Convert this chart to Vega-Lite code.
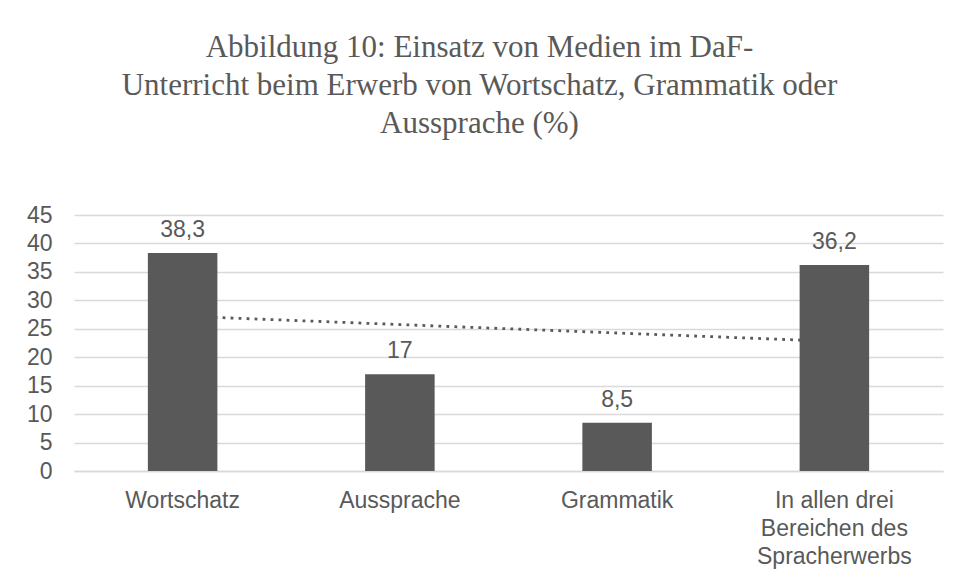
{
  "$schema": "https://vega.github.io/schema/vega-lite/v6.json",
  "autosize": "none",
  "width": 869,
  "height": 256,
  "padding": {"left": 74, "top": 215, "right": 14, "bottom": 108},
  "background": "white",
  "config": {
    "locale": {"number": {"decimal": ",", "thousands": ".", "grouping": [3], "currency": ["", " €"]}},
    "view": {"stroke": null},
    "font": "Liberation Sans"
  },
  "title": {
    "text": ["Abbildung 10: Einsatz von Medien im DaF-", "Unterricht beim Erwerb von Wortschatz, Grammatik oder", "Aussprache (%)"],
    "font": "Liberation Serif",
    "fontSize": 31,
    "fontWeight": "normal",
    "color": "#595959",
    "lineHeight": 38,
    "anchor": "middle",
    "frame": "group",
    "dx": -29,
    "offset": 64
  },
  "data": {
    "values": [
      {"kategorie": "Wortschatz", "wert": 38.3, "trend": 27.22},
      {"kategorie": "Aussprache", "wert": 17, "trend": 25.74},
      {"kategorie": "Grammatik", "wert": 8.5, "trend": 24.26},
      {"kategorie": "In allen drei Bereichen des Spracherwerbs", "wert": 36.2, "trend": 22.78}
    ]
  },
  "transform": [{"fold": ["wert", "trend"], "as": ["reihe", "y"]}],
  "encoding": {
    "x": {
      "field": "kategorie",
      "type": "nominal",
      "sort": null,
      "scale": {"paddingInner": 0.68, "paddingOuter": 0.34},
      "axis": {
        "title": null,
        "labelAngle": 0,
        "ticks": false,
        "domainColor": "#d9d9d9",
        "domainWidth": 1.3,
        "labelFont": "Liberation Sans",
        "labelFontSize": 23,
        "labelColor": "#595959",
        "labelPadding": 18,
        "labelBaseline": "top",
        "labelLineHeight": 28,
        "labelExpr": "datum.label == 'In allen drei Bereichen des Spracherwerbs' ? ['In allen drei', 'Bereichen des', 'Spracherwerbs'] : datum.label"
      }
    },
    "y": {
      "field": "y",
      "type": "quantitative",
      "scale": {"domain": [0, 45], "nice": false},
      "axis": {
        "title": null,
        "values": [0, 5, 10, 15, 20, 25, 30, 35, 40, 45],
        "labelOverlap": false,
        "labelBound": false,
        "labelFlush": false,
        "domain": false,
        "ticks": false,
        "gridColor": "#d9d9d9",
        "gridWidth": 1.3,
        "labelFont": "Liberation Sans",
        "labelFontSize": 23,
        "labelColor": "#595959",
        "labelPadding": 22
      }
    }
  },
  "layer": [
    {
      "transform": [{"filter": "datum.reihe == 'trend'"}],
      "mark": {"type": "line", "color": "#595959", "strokeWidth": 2.8, "strokeDash": [2.8, 5.2]}
    },
    {
      "transform": [{"filter": "datum.reihe == 'wert'"}],
      "mark": {"type": "bar", "color": "#595959"}
    },
    {
      "transform": [{"filter": "datum.reihe == 'wert'"}],
      "mark": {"type": "text", "color": "#595959", "font": "Liberation Sans", "fontSize": 23, "baseline": "alphabetic", "dy": -16},
      "encoding": {
        "text": {"field": "y", "type": "quantitative", "format": ".3~r"}
      }
    }
  ]
}
